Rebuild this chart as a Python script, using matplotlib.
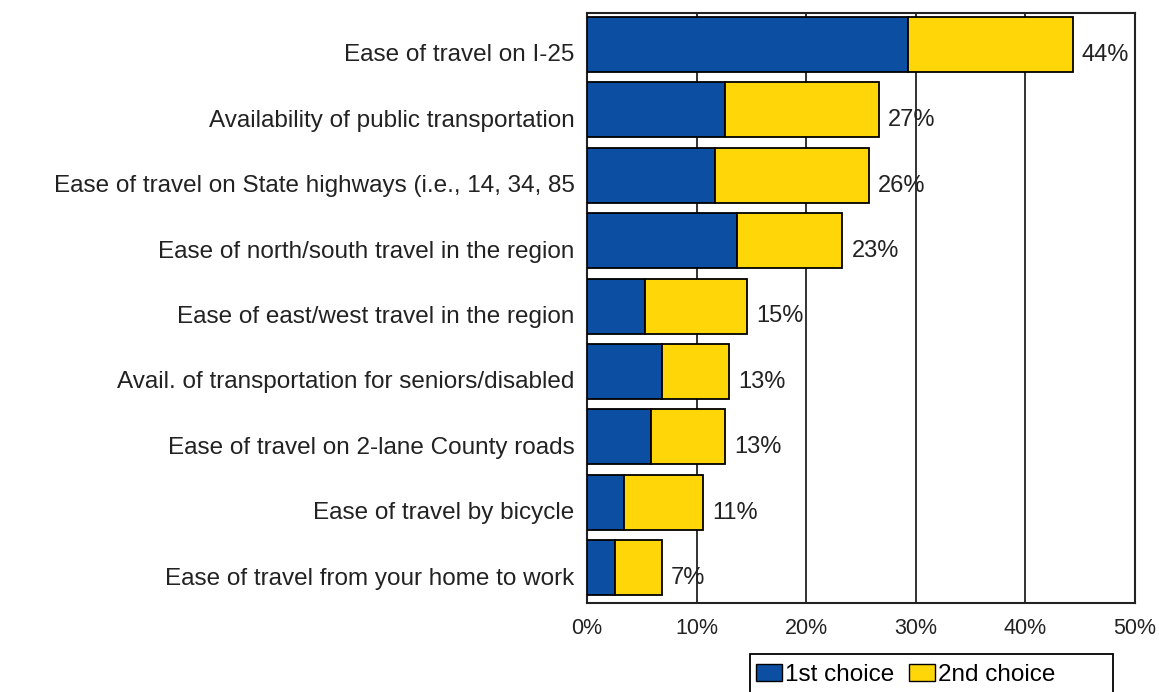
import matplotlib.pyplot as plt
from matplotlib.patches import Patch, Rectangle
from matplotlib.transforms import ScaledTranslation

plt.rcParams['font.family'] = ['Liberation Sans', 'DejaVu Sans']

categories = [
    'Ease of travel on I-25',
    'Availability of public transportation',
    'Ease of travel on State highways (i.e., 14, 34, 85',
    'Ease of north/south travel in the region',
    'Ease of east/west travel in the region',
    'Avail. of transportation for seniors/disabled',
    'Ease of travel on 2-lane County roads',
    'Ease of travel by bicycle',
    'Ease of travel from your home to work',
]
first_choice = [29.3, 12.6, 11.7, 13.7, 5.3, 6.8, 5.8, 3.4, 2.6]
second_choice = [15.0, 14.0, 14.0, 9.6, 9.3, 6.2, 6.8, 7.2, 4.2]
xticks = [0, 10, 20, 30, 40, 50]

blue = '#0b4ea2'
yellow = '#ffd709'
ink = '#222222'

W, H = 1159, 692
fig = plt.figure(figsize=(W / 100, H / 100), dpi=100)
ax = fig.add_axes([587 / W, 1 - 603 / H, (1135 - 587) / W, (603 - 13) / H])

y = list(range(len(categories)))
ax.barh(y, first_choice, height=0.84, color=blue, edgecolor='black', linewidth=1.3, zorder=3)
ax.barh(y, second_choice, left=first_choice, height=0.84, color=yellow,
        edgecolor='black', linewidth=1.3, zorder=3)

# totals sit just right of each bar, a little below centre
for yi, a, b in zip(y, first_choice, second_choice):
    total = a + b
    ax.annotate(f'{round(total)}%', xy=(total, yi), xytext=(6.5, -7.5),
                textcoords='offset points', va='center', ha='left',
                fontsize=17, color=ink, zorder=4)

ax.set_xlim(0, 50)
ax.set_ylim(8.54, -0.48)
ax.set_xticks(xticks)
ax.set_xticklabels([f'{t}%' for t in xticks], fontsize=15.5, color=ink)
ax.set_yticks(y)
ax.set_yticklabels(categories, fontsize=17.5, color=ink)
ax.tick_params(axis='both', length=0)
ax.tick_params(axis='x', pad=11)
ax.tick_params(axis='y', pad=9)

shift = ScaledTranslation(0, -0.085, fig.dpi_scale_trans)
for lbl in ax.get_yticklabels():
    lbl.set_transform(lbl.get_transform() + shift)

for t in xticks[1:-1]:
    ax.axvline(t, color=ink, linewidth=1.3, zorder=1)
for s in ax.spines.values():
    s.set_color(ink)
    s.set_linewidth(1.5)

# legend box runs off the bottom edge
fig.patches.append(Rectangle((750 / W, -0.05), (1113 - 750) / W, 1 - 654 / H + 0.05,
                             transform=fig.transFigure, facecolor='white',
                             edgecolor='black', linewidth=1.3))
handles = [Patch(facecolor=blue, edgecolor='black', label='1st choice'),
           Patch(facecolor=yellow, edgecolor='black', label='2nd choice')]
fig.legend(handles=handles, loc='upper left', bbox_to_anchor=(756 / W, 1 - 664 / H),
           ncol=2, fontsize=17.5, frameon=False,
           handlelength=1.05, handleheight=0.7, handletextpad=0.15, columnspacing=0.6,
           borderpad=0, borderaxespad=0)

fig.savefig('out.png', dpi=100)
